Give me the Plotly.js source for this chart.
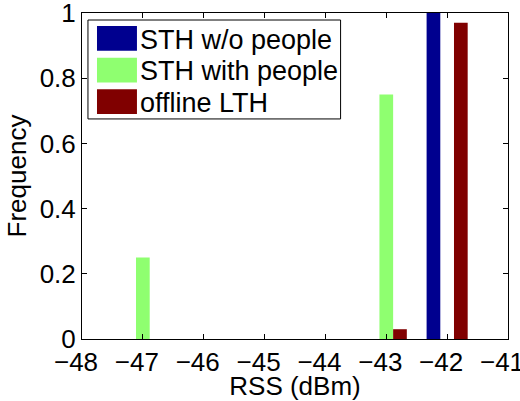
<!DOCTYPE html>
<html>
<head>
<meta charset="utf-8">
<script src="https://cdn.plot.ly/plotly-3.0.1.min.js"></script>
<style>html,body{margin:0;padding:0;background:#fff;}#chart{width:520px;height:401px;}</style>
</head>
<body>
<div id="chart"></div>
<script>
// Data
var rssBins = [-48, -47, -46, -45, -44, -43, -42, -41];
var seriesNames = ["STH w/o people", "STH with people", "offline LTH"];
var sthWithout = [0, 0, 0, 0, 0, 0, 1.0, 0];
var sthWith    = [0, 0.25, 0, 0, 0, 0.75, 0, 0];
var offlineLTH = [0, 0, 0, 0, 0, 0.03, 0.97, 0];
var seriesColors = ["#00008F", "#8FFF70", "#800000"];
var yTicks = [0, 0.2, 0.4, 0.6, 0.8, 1];

var font = {family: "Liberation Sans, Arial, sans-serif", size: 26, color: "#000"};
var legFont = {family: "Liberation Sans, Arial, sans-serif", size: 27, color: "#000"};
var values = [sthWithout, sthWith, offlineLTH];
var traces = values.map(function (v, i) {
  return {type: "bar", x: rssBins, y: v, name: seriesNames[i],
          marker: {color: seriesColors[i], line: {width: 0}}, showlegend: false,
          hoverinfo: "x+y"};
});

// Custom MATLAB-like legend (box, swatches, labels)
var shapes = [{type: "rect", xref: "paper", yref: "paper", x0: 0.014, x1: 0.607, y0: 0.675, y1: 0.9785,
               line: {color: "#000", width: 1}, fillcolor: "#fff", layer: "above"}];
var annotations = [];
var rowTop = [0.960, 0.863, 0.766];
var rowH = 0.076;
for (var i = 0; i < seriesNames.length; i++) {
  shapes.push({type: "rect", xref: "paper", yref: "paper", x0: 0.0352, x1: 0.129,
               y0: rowTop[i] - rowH, y1: rowTop[i], line: {width: 0}, fillcolor: seriesColors[i], layer: "above"});
  annotations.push({xref: "paper", yref: "paper", x: 0.131, y: rowTop[i] - rowH / 2 - 0.004,
                    xanchor: "left", yanchor: "middle", text: seriesNames[i], showarrow: false,
                    font: legFont});
}

var layout = {
  width: 520, height: 401,
  margin: {l: 82, r: 12, t: 13, b: 62},
  paper_bgcolor: "#fff", plot_bgcolor: "#fff",
  font: font,
  barmode: "group", bargap: 0.325, bargroupgap: 0,
  xaxis: {range: [-48, -41], tickvals: rssBins, ticks: "inside", ticklen: 5, tickcolor: "#000",
          showline: true, linecolor: "#000", linewidth: 1, mirror: "ticks", showgrid: false, zeroline: false,
          ticklabeloverflow: "allow", ticklabelshift: -6,
          tickfont: font, title: {text: "RSS (dBm)", font: font, standoff: 2}},
  yaxis: {range: [0, 1], tickvals: yTicks, ticks: "inside", ticklen: 5, tickcolor: "#000",
          showline: true, linecolor: "#000", linewidth: 1, mirror: "ticks", showgrid: false, zeroline: false,
          ticklabeloverflow: "allow",
          tickfont: font, title: {text: "Frequency", font: font, standoff: 5}},
  shapes: shapes,
  annotations: annotations
};

Plotly.newPlot("chart", traces, layout, {displayModeBar: false, staticPlot: true});
</script>
</body>
</html>
